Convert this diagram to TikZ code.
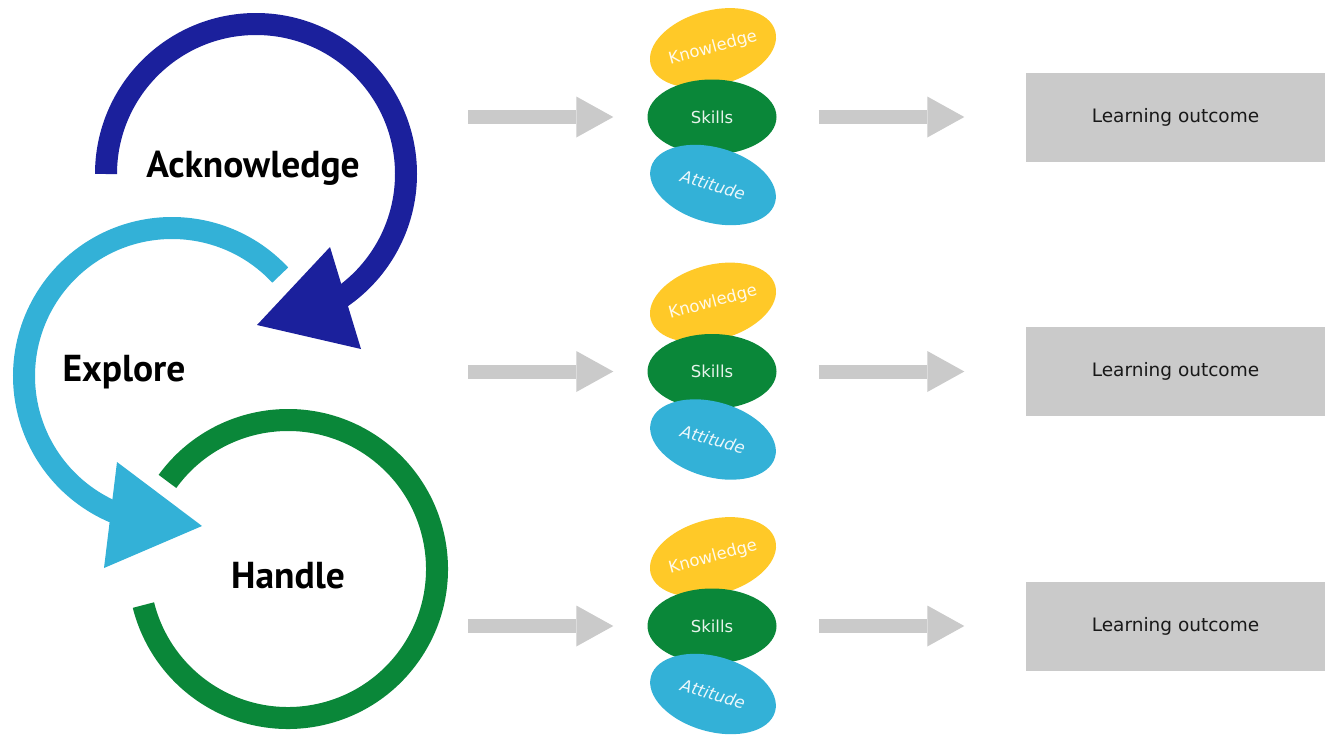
\documentclass[tikz,border=0pt]{standalone}
\usepackage{fontspec}
\setmainfont{DejaVu Sans}
\newfontfamily\stagefont{PT Sans}
\usetikzlibrary{arrows.meta,positioning,shapes.geometric}
\definecolor{ackblue}{HTML}{1B209C}
\definecolor{expblue}{HTML}{33B1D7}
\definecolor{handgreen}{HTML}{0A8739}
\definecolor{knowyellow}{HTML}{FFC928}
\definecolor{flowgrey}{HTML}{CACACA}

\begin{document}
\begin{tikzpicture}[x=1pt, y=1pt, node distance=68.5pt,
    stage/.style={anchor=base, font=\stagefont\bfseries\fontsize{37.5}{42}\selectfont},
    blob/.style={ellipse, inner sep=0pt, minimum width=129pt, minimum height=75pt,
      text=white, text opacity=0.9, font=\fontsize{16.5}{18}\selectfont},
    cycle/.style={line width=22pt},
    flow/.style={draw=flowgrey, line width=14pt,
      -{Triangle[length=37pt, width=41pt, line width=0pt]}},
    outcome/.style={fill=flowgrey, minimum width=300pt, minimum height=89pt,
      inner sep=0pt, text=black!90, font=\fontsize{18.5}{20}\selectfont}]
      \useasboundingbox (0,0) rectangle (1325,-734);
      \coordinate (ackc) at (256,-174);
      \coordinate (expc) at (172,-376);
      \coordinate (handc) at (288,-569);
      \draw [cycle, handgreen] (handc) ++(144:149) arc[start angle=144, end angle=-166, radius=149];
      \draw [cycle, expblue] (expc) ++(43:148) arc[start angle=43, end angle=248, radius=148];
      \fill [expblue] (117,-462) -- (202,-526) -- (104,-568) -- cycle;
      \draw [cycle, ackblue] (ackc) ++(180:150) arc[start angle=180, end angle=-58, radius=150];
      \fill [ackblue] (330,-247) -- (257,-325) -- (361,-349) -- cycle;
      \node [stage] (ack) at (253,-177) {Acknowledge};
      \node [stage] (exp) at (124,-381) {Explore};
      \node [stage] (hand) at (288,-588) {Handle};
      \foreach \r/\y in {1/117,2/371.5,3/626} {
        \node [blob, fill=knowyellow, rotate=15] (kn\r) at (713,-\y+69) {Knowledge};
        \node [blob, fill=handgreen] (sk\r) at (712,-\y) {Skills};
        \node [blob, fill=expblue, rotate=-16, font=\fontsize{16.5}{18}\selectfont\itshape] (att\r) at ([xshift=1pt, yshift=-68pt]sk\r.center) {Attitude};
        \node [outcome] (lo\r) at (1175.5,-\y) {Learning outcome};
        \coordinate (in\r) at (468,-\y);
        \draw [flow, shorten >=34pt] (in\r) -- (sk\r.west);
        \draw [flow, shorten <=42pt, shorten >=61pt] (sk\r.east) -- (lo\r.west);
      }
\end{tikzpicture}
\end{document}
